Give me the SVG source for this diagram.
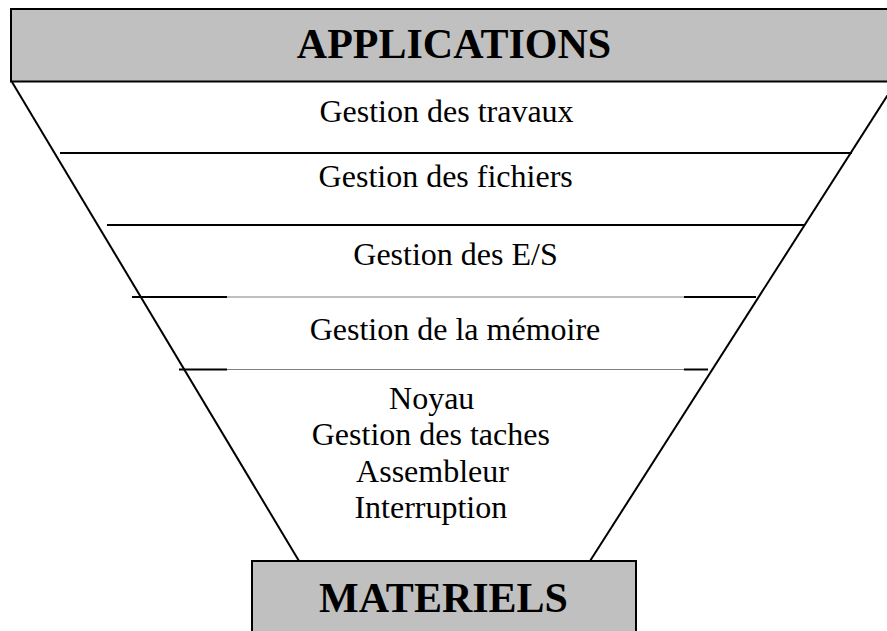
<svg xmlns="http://www.w3.org/2000/svg" width="887" height="631" viewBox="0 0 887 631">
<style>
.box{fill:#c0c0c0;stroke:#000;stroke-width:2}
.ln{stroke:#000;stroke-width:2;fill:none}
.thin{stroke:#808080;stroke-width:1;fill:none}
.t{font-family:"Liberation Serif","Times New Roman",serif;font-size:32px;fill:#000;text-anchor:middle}
.h{font-family:"Liberation Serif","Times New Roman",serif;font-size:42px;font-weight:bold;fill:#000;text-anchor:middle}
</style>
<rect width="887" height="631" fill="#fff"/>
<g id="connectors">
<line class="ln" x1="12" y1="82" x2="299" y2="561"/>
<line class="ln" x1="896" y1="82" x2="590" y2="561"/>
<line class="ln" x1="60" y1="153" x2="852" y2="153"/>
<line class="ln" x1="107" y1="225" x2="804" y2="225"/>
<line class="thin" x1="227" y1="297" x2="684" y2="297"/>
<line class="ln" x1="132" y1="297" x2="227" y2="297"/>
<line class="ln" x1="684" y1="297" x2="756" y2="297"/>
<line class="thin" x1="227" y1="369.5" x2="684" y2="369.5"/>
<line class="ln" x1="179" y1="369.5" x2="227" y2="369.5"/>
<line class="ln" x1="684" y1="369.5" x2="708" y2="369.5"/>
</g>
<g id="applications">
<rect class="box" x="11" y="9" width="890" height="72.5"/>
<text class="h" x="454" y="57.5">APPLICATIONS</text>
</g>
<g id="travaux"><text class="t" x="446.5" y="121.5">Gestion des travaux</text></g>
<g id="fichiers"><text class="t" x="445.7" y="187">Gestion des fichiers</text></g>
<g id="es"><text class="t" x="455.5" y="265">Gestion des E/S</text></g>
<g id="memoire"><text class="t" x="455" y="340">Gestion de la mémoire</text></g>
<g id="noyau">
<text class="t" x="431.7" y="408.5">Noyau</text>
<text class="t" x="430.8" y="445">Gestion des taches</text>
<text class="t" x="432.5" y="481.7">Assembleur</text>
<text class="t" x="430.8" y="518.3">Interruption</text>
</g>
<g id="materiels">
<rect class="box" x="252" y="561" width="384" height="80"/>
<text class="h" x="443.5" y="611.5">MATERIELS</text>
</g>
</svg>
